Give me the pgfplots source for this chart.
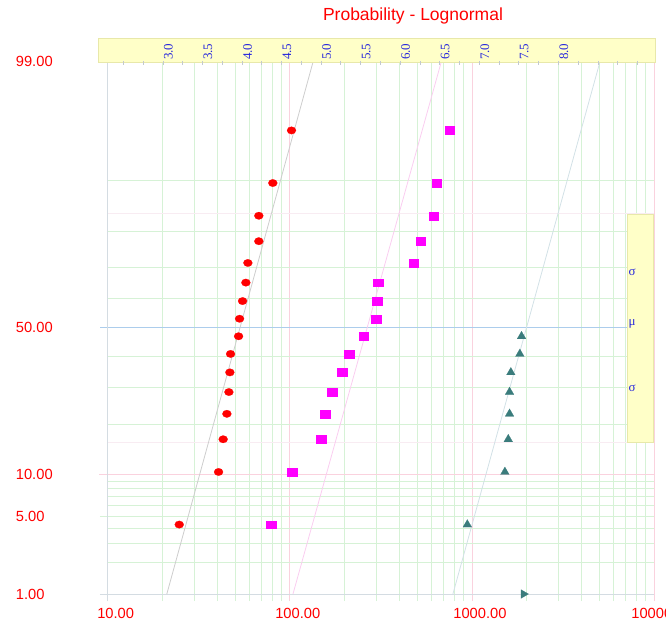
\documentclass[border=0pt]{standalone}
\usepackage{pgfplots}
\pgfplotsset{compat=1.18}
\usepackage{pgfplotstable}
\usepackage{fontspec}
\setmainfont{Liberation Sans}
\newfontfamily\serifb{Liberation Serif}
\definecolor{gridgreen}{RGB}{214,242,214}
\definecolor{gridpink}{RGB}{250,210,222}
\definecolor{gridblue}{RGB}{172,205,236}
\definecolor{gridfaint}{RGB}{248,236,242}
\definecolor{axgray}{RGB}{212,220,226}
\definecolor{bandfill}{RGB}{255,255,200}
\definecolor{banddraw}{RGB}{232,232,170}
\definecolor{tealm}{RGB}{58,124,124}
\definecolor{labblue}{RGB}{40,40,220}
\definecolor{fitgray}{RGB}{205,205,205}
\definecolor{fitpink}{RGB}{250,205,240}
\definecolor{fitteal}{RGB}{210,225,230}
\definecolor{magm}{RGB}{255,0,255}

% x value, probit (z) of median rank
\pgfplotstableread{
x z
24.71 -1.7202
40.63 -1.2610
43.07 -0.9755
45.13 -0.7534
46.29 -0.5634
46.88 -0.3919
47.29 -0.2307
52.31 -0.0765
52.98 0.0765
55.03 0.2307
57.37 0.3919
58.84 0.5634
67.58 0.7534
67.58 0.9755
80.67 1.2610
102.2 1.7202
}\redtab
\pgfplotstableread{
x z
78.96 -1.7202
102.9 -1.2610
148.5 -0.9755
156.2 -0.7534
170.6 -0.5634
193.6 -0.3919
211.5 -0.2307
255.3 -0.0765
297.5 0.0765
301.3 0.2307
305.1 0.3919
480.7 0.5634
525.2 0.7534
618.9 0.9755
642.7 1.2610
757.5 1.7202
}\magtab
\pgfplotstableread{
x z
943.6 -1.7202
1517.6 -1.2610
1583.8 -0.9755
1610 -0.7534
1610 -0.5634
1636.6 -0.3919
1833.5 -0.2307
1873.3 -0.0765
}\tealtab

\begin{document}
\begin{tikzpicture}
\begin{axis}[
  at={(0,0)}, anchor=south west,
  scale only axis, width=546.3pt, height=533pt,
  xmode=log, xmin=10, xmax=10000,
  ymin=-2.3263, ymax=2.3263,
  axis line style={draw=none},
  xtick={10,100,1000,10000},
  xticklabels={10.00,100.00,1000.00,10000.00},
  minor xtick={20,30,40,50,60,70,80,90,200,300,400,500,600,700,800,900,2000,3000,4000,5000,6000,7000,8000,9000},
  ytick={-2.3263,-1.6449,-1.2816,0,2.3263},
  yticklabels={1.00,5.00,10.00,50.00,99.00},
  xtick pos=lower, xtick align=outside,
  major tick length=7pt, minor tick length=7pt,
  ytick style={draw=none},
  xtick style={line width=0.8pt},
  every major x tick/.append style={gridpink},
  every minor x tick/.append style={gridgreen},
  xmajorgrids, xminorgrids,
  major grid style={gridpink, line width=0.8pt},
  minor grid style={gridgreen, line width=0.8pt},
  ticklabel style={font=\fontsize{14.7}{16}\selectfont, text=red},
  xticklabel style={yshift=-4pt, xshift=8pt},
  yticklabel style={anchor=west, inner sep=0pt, xshift=-92pt},
  clip=false,
]
\pgfplotsinvokeforeach{-2.0537,-1.8808,-1.7507,-1.5548,-1.4758,-1.4051,-1.3408,-0.8416,-0.5244,-0.2533,0.2533,0.5244,0.8416,1.2816}{
  \draw[gridgreen, line width=0.8pt] (axis cs:10,#1) -- (axis cs:10000,#1);
}
\draw[gridgreen, line width=0.8pt] (axis cs:9.07,-1.6449) -- (axis cs:10000,-1.6449);
\draw[gridfaint, line width=0.8pt] (axis cs:10,-1) -- (axis cs:10000,-1);
\draw[gridfaint, line width=0.8pt] (axis cs:10,1) -- (axis cs:10000,1);
\draw[gridpink, line width=0.8pt] (axis cs:9.0,-1.2816) -- (axis cs:10000,-1.2816);
\draw[gridblue, line width=0.8pt] (axis cs:9.1,0) -- (axis cs:10000,0);
\draw[axgray, line width=0.8pt] (axis cs:9.07,-2.3263) -- (axis cs:10000,-2.3263);
\draw[axgray, line width=0.8pt] (axis cs:10,-2.39) -- (axis cs:10,2.3263);

\addplot[fitgray, line width=0.8pt] coordinates {(21.12,-2.3263) (134.6,2.3263)};
\addplot[fitpink, line width=0.8pt] coordinates {(104.1,-2.3263) (681.0,2.3263)};
\addplot[fitteal, line width=0.8pt] coordinates {(786.6,-2.3263) (5063,2.3263)};

\addplot[red, only marks, mark=*, mark size=4.5pt, mark options={solid, fill=red, draw=red, line width=0.2pt, yscale=0.83}] table[x=x, y=z] {\redtab};
\addplot[magm, only marks, mark=square*, mark size=4.6pt, mark options={solid, fill=magm, draw=magm, line width=0.2pt, yscale=0.86}] table[x=x, y=z] {\magtab};
\addplot[tealm, only marks, mark=triangle*, mark size=5pt, mark options={solid, fill=tealm, draw=tealm, line width=0.2pt}] table[x=x, y=z] {\tealtab};
\addplot[tealm, only marks, mark=triangle*, mark size=5pt, mark options={solid, fill=tealm, draw=tealm, line width=0.2pt, rotate=-90}] coordinates {(1921,-2.3263)};
\end{axis}

% top yellow band (ln scale)
\draw[banddraw, fill=bandfill] (-9.7pt,532pt) rectangle (547.3pt,556pt);
% right yellow band (mu +/- sigma)
\draw[banddraw, fill=bandfill] (519.3pt,152pt) rectangle (545.3pt,380pt);
\node[anchor=west, inner sep=0pt, text=labblue, font=\serifb\fontsize{13}{14}\selectfont] at (520.8pt,322pt) {σ};
\node[anchor=west, inner sep=0pt, text=labblue, font=\serifb\fontsize{13}{14}\selectfont] at (520.8pt,270.5pt) {μ};
\node[anchor=west, inner sep=0pt, text=labblue, font=\serifb\fontsize{13}{14}\selectfont] at (520.8pt,205.5pt) {σ};

\begin{axis}[
  at={(0,0)}, anchor=south west,
  scale only axis, width=546.3pt, height=533pt,
  xmin=2.302585, xmax=9.210340, ymin=0, ymax=1,
  axis x line*=top, axis y line=none,
  axis line style={draw=none},
  ytick=\empty,
  xtick={3,3.5,4,4.5,5,5.5,6,6.5,7,7.5,8},
  xticklabels={3.0,3.5,4.0,4.5,5.0,5.5,6.0,6.5,7.0,7.5,8.0},
  minor xtick={2.5,2.75,3.25,3.75,4.25,4.75,5.25,5.75,6.25,6.75,7.25,7.75,8.25,8.5,8.75,9},
  tick align=inside, major tick length=4pt, minor tick length=4pt,
  tick style={color=axgray!80!gray, line width=0.6pt},
  xticklabel style={rotate=90, anchor=north west, inner sep=1pt, text=labblue, font=\serifb\fontsize{13}{14}\selectfont},
]
\end{axis}

% title
\node[text=red, font=\fontsize{17.5}{20}\selectfont] at (305.3pt,578pt) {Probability - Lognormal};

\pgfresetboundingbox
\path (-107.7pt,-33pt) rectangle (558.3pt,594pt);
\end{tikzpicture}
\end{document}
